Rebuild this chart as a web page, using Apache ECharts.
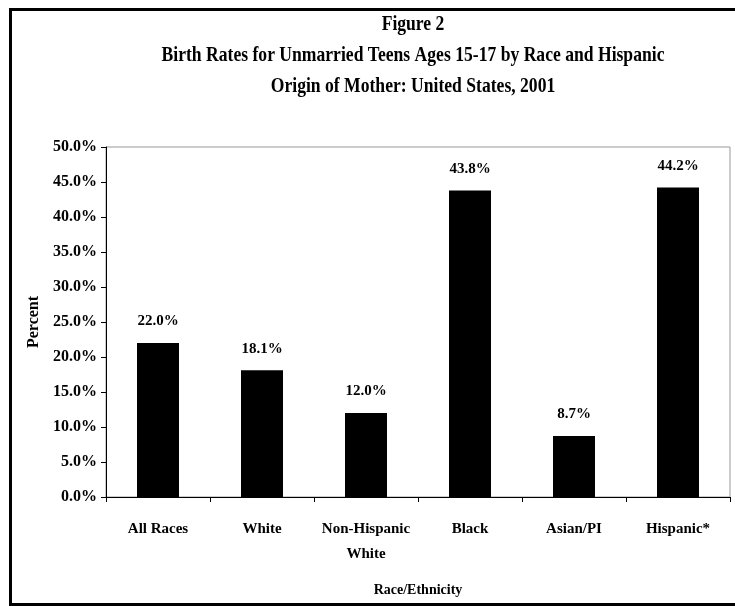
<!DOCTYPE html>
<html>
<head>
<meta charset="utf-8">
<script src="https://cdn.jsdelivr.net/npm/echarts@6/dist/echarts.min.js"></script>
<style>
  html, body { margin: 0; padding: 0; background: #fff; }
  #chart { width: 735px; height: 606px; }
</style>
</head>
<body>
<div id="chart"></div>
<script>
// Birth rates for unmarried teens 15-17, by race / Hispanic origin, US 2001
const categories = ['All Races', 'White', 'Non-Hispanic\nWhite', 'Black', 'Asian/PI', 'Hispanic*'];
const rates = [22.0, 18.1, 12.0, 43.8, 8.7, 44.2];
const titleLines = [
  'Figure 2',
  'Birth Rates for Unmarried Teens Ages 15-17 by Race and Hispanic',
  'Origin of Mother: United States, 2001'
];

const SERIF = '"Liberation Serif", "Times New Roman", serif';
const chart = echarts.init(document.getElementById('chart'), null, { renderer: 'canvas' });

// Title block: three centred, condensed bold lines
const titleGraphics = titleLines.map((line, i) => ({
  type: 'text',
  x: 413,
  y: 24 + i * 31,
  scaleX: 0.8,
  style: {
    text: line,
    font: 'bold 22px ' + SERIF,
    fill: '#000',
    textAlign: 'center',
    textVerticalAlign: 'middle'
  }
}));

chart.setOption({
  animation: false,
  backgroundColor: '#fff',
  graphic: [
    {
      // outer frame; its right side runs past the page edge
      type: 'rect',
      shape: { x: 10.5, y: 9.5, width: 800, height: 595 },
      style: { fill: 'none', stroke: '#000', lineWidth: 3 },
      z: 100
    }
  ].concat(titleGraphics),
  grid: {
    left: 106, right: 5, top: 147, bottom: 109,
    show: true, borderColor: '#999', borderWidth: 1, backgroundColor: 'transparent'
  },
  xAxis: {
    type: 'category',
    data: categories,
    name: 'Race/Ethnicity',
    nameLocation: 'middle',
    nameGap: 86,
    nameTextStyle: { fontFamily: SERIF, fontWeight: 'bold', fontSize: 14, color: '#000' },
    axisLine: { lineStyle: { color: '#000', width: 1 } },
    axisTick: { show: true, alignWithLabel: false, length: 5, lineStyle: { color: '#000' } },
    axisLabel: {
      fontFamily: SERIF, fontWeight: 'bold', fontSize: 15, color: '#000',
      margin: 20, lineHeight: 25, interval: 0
    }
  },
  yAxis: {
    type: 'value',
    min: 0, max: 50, interval: 5,
    name: 'Percent',
    nameLocation: 'middle',
    nameGap: 62,
    nameRotate: 90,
    nameTextStyle: { fontFamily: SERIF, fontWeight: 'bold', fontSize: 16, color: '#000' },
    axisLine: { show: true, lineStyle: { color: '#000', width: 1 } },
    axisTick: { show: true, length: 5, lineStyle: { color: '#000' } },
    splitLine: { show: false },
    axisLabel: {
      fontFamily: SERIF, fontWeight: 'bold', fontSize: 16, color: '#000', margin: 9,
      formatter: v => v.toFixed(1) + '%'
    }
  },
  series: [{
    type: 'bar',
    data: rates,
    barWidth: 42,
    itemStyle: { color: '#000' },
    label: {
      show: true,
      position: 'top',
      distance: 14,
      fontFamily: SERIF, fontWeight: 'bold', fontSize: 15, color: '#000',
      formatter: p => p.value.toFixed(1) + '%'
    }
  }]
});
</script>
</body>
</html>
